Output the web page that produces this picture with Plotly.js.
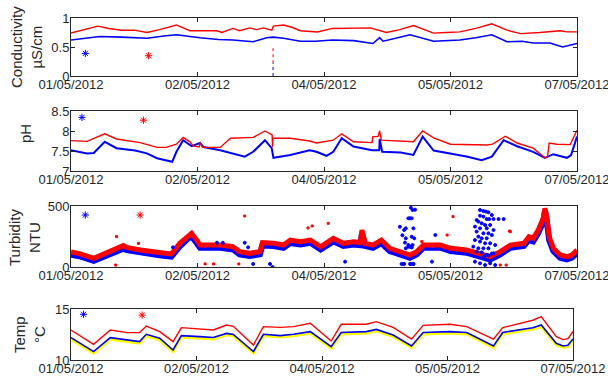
<!DOCTYPE html>
<html>
<head>
<meta charset="utf-8">
<script src="https://cdn.plot.ly/plotly-3.0.1.min.js"></script>
<style>html,body{margin:0;padding:0;background:#fff;}#chart{width:608px;height:378px;}</style>
</head>
<body>
<div id="chart"></div>
<script>
// ---- x axis (days since 01/05/2012 00:00) ----
const tickDays = [0, 1.5, 3, 4.5, 6];
const tickLabels = ["01/05/2012", "02/05/2012", "04/05/2012", "05/05/2012", "07/05/2012"];

// ---- Conductivity (µS/cm) ----
const condRedT = [0,0.15,0.32,0.45,0.6,0.75,0.9,1.05,1.25,1.41,1.55,1.73,1.79,1.92,2.0,2.12,2.2,2.28,2.38,2.4,2.52,2.62,2.72,2.92,3.1,3.3,3.55,3.74,3.9,4.06,4.3,4.45,4.61,4.8,4.99,5.17,5.33,5.56,5.8,5.88,6.0];
const condRed  = [0.74,0.8,0.86,0.82,0.79,0.79,0.75,0.8,0.88,0.78,0.78,0.78,0.75,0.82,0.78,0.83,0.8,0.83,0.79,0.86,0.88,0.84,0.78,0.76,0.82,0.83,0.83,0.75,0.8,0.87,0.74,0.75,0.76,0.82,0.9,0.79,0.73,0.75,0.78,0.76,0.76];
const condBlueT = [0,0.15,0.34,0.6,0.9,1.1,1.25,1.53,1.75,1.92,2.16,2.32,2.4,2.52,2.72,2.9,3.1,3.35,3.58,3.66,3.7,3.85,4.02,4.3,4.61,4.8,4.99,5.17,5.35,5.48,5.68,5.83,6.0];
const condBlue  = [0.62,0.65,0.68,0.67,0.65,0.69,0.71,0.66,0.63,0.62,0.59,0.66,0.67,0.65,0.6,0.6,0.62,0.61,0.56,0.66,0.6,0.65,0.71,0.6,0.62,0.66,0.71,0.59,0.6,0.57,0.57,0.5,0.56];
const condGlitchT = [2.396, 2.396];
const condGlitchRed = [0.22, 0.5];
const condGlitchBlue = [0.0, 0.22];
const condStarT = [0.17, 0.92];
const condStar  = [0.39, 0.35];

// ---- pH ----
const phRedT = [0,0.19,0.4,0.54,0.82,1.02,1.13,1.25,1.33,1.41,1.45,1.52,1.53,1.56,1.77,1.89,2.16,2.3,2.385,2.39,2.395,2.6,2.83,2.91,3.11,3.21,3.35,3.57,3.58,3.64,3.66,3.68,4.06,4.17,4.3,4.5,4.93,5.0,5.15,5.29,5.48,5.62,5.65,5.67,5.76,5.92,6.0];
const phRed  = [7.76,7.74,7.93,7.8,7.71,7.59,7.59,7.67,7.84,7.73,7.62,7.6,7.71,7.59,7.59,7.82,7.84,8.0,7.9,7.6,7.82,7.82,7.75,7.7,7.77,7.93,7.73,7.71,7.86,7.86,8.0,7.77,7.73,8.0,7.83,7.67,7.65,7.67,7.87,7.7,7.57,7.33,7.35,7.7,7.67,7.66,8.02];
const phBlueT = [0,0.19,0.27,0.4,0.54,0.76,0.9,1.02,1.2,1.25,1.33,1.43,1.53,1.57,1.77,1.92,2.06,2.16,2.3,2.38,2.4,2.6,2.83,2.91,3.03,3.11,3.21,3.35,3.57,3.655,3.66,3.69,3.91,4.06,4.17,4.3,4.5,4.69,4.87,4.99,5.13,5.29,5.48,5.62,5.72,5.88,5.93,6.0];
const phBlue  = [7.52,7.44,7.45,7.73,7.57,7.51,7.44,7.32,7.23,7.48,7.77,7.62,7.7,7.6,7.52,7.44,7.36,7.48,7.77,7.57,7.33,7.4,7.52,7.48,7.38,7.48,7.82,7.61,7.52,7.52,7.8,7.48,7.46,7.4,7.86,7.51,7.44,7.36,7.27,7.36,7.77,7.62,7.48,7.33,7.42,7.33,7.4,7.86];
const phStarT = [0.13, 0.86];
const phStar  = [8.34, 8.27];

// ---- Turbidity (NTU) ----
const turbT = [0,0.1,0.27,0.4,0.54,0.62,0.66,0.82,1.07,1.19,1.29,1.39,1.43,1.49,1.53,1.77,1.92,2.0,2.12,2.24,2.27,2.4,2.52,2.6,2.72,2.84,2.96,3.11,3.23,3.35,3.43,3.45,3.49,3.58,3.68,3.78,3.9,4.02,4.1,4.18,4.38,4.5,4.69,4.85,4.97,5.09,5.21,5.37,5.43,5.48,5.54,5.6,5.62,5.64,5.67,5.72,5.8,5.88,5.94,6.0];
const turbRed  = [123,110,71,110,153,175,160,139,117,107,194,262,276,221,180,180,166,126,112,126,200,194,180,221,207,221,166,235,194,207,200,303,194,180,221,153,126,98,126,180,180,153,139,112,85,126,180,194,248,235,303,399,481,413,248,153,98,85,98,139];
const turbBlue = [100,88,50,88,130,150,138,117,95,85,170,235,250,198,158,158,144,104,90,104,176,172,158,196,184,198,144,210,172,184,178,270,172,158,196,131,104,76,104,158,158,131,117,90,62,104,158,172,222,210,278,372,460,390,222,131,76,62,76,117];
const turbBlueOutT = [1.21,1.73,1.80,2.06,2.10,2.16,2.36,2.39,3.25,4.28,4.32,
  3.92,3.95,3.97,4.0,4.02,4.03,4.04,4.05,4.06,4.07,4.03,4.05,4.0,4.02,3.97,4.06,3.95,4.04,3.94,3.97,4.0,4.02,4.06,4.04,4.08,3.9,3.93,3.96,
  4.85,4.89,4.92,4.95,4.99,4.85,4.89,4.96,4.93,5.01,5.07,5.13,4.81,4.83,4.87,4.91,4.97,4.79,4.85,4.93,5.01,4.81,4.89,4.95,4.99,4.83,4.87,4.93,4.79,4.85,4.91,4.97,5.03,4.77,4.83,4.89,4.95,4.81,5.01,4.79,4.85,4.91,4.97,5.03,4.87,4.93,4.99,4.9,4.95];
const turbBlueOut = [161,199,199,199,161,25,25,0,44,44,262,
  25,303,235,399,399,486,248,467,317,235,25,180,166,25,153,25,25,160,25,317,180,166,25,399,470,330,260,200,
  467,459,454,448,426,421,413,393,393,393,393,393,385,372,358,344,344,331,317,317,303,290,276,276,262,249,235,235,221,208,194,194,180,167,153,153,153,126,112,44,30,16,30,16,120,100,110,90,95];
const turbRedOutT = [0.54,0.8,0.53,1.59,1.69,1.99,2.06,2.81,2.86,3.05,4.53,4.46,4.16,5.2,5.09,5.16,5.21];
const turbRedOut  = [249,194,16,25,25,25,418,320,336,358,413,262,208,295,16,16,290];
const turbStarT = [0.17, 0.82];
const turbStar  = [426, 426];

// ---- Temperature (°C) ----
const tempT = [0,0.27,0.47,0.67,0.82,0.9,1.06,1.22,1.32,1.54,1.7,1.86,1.94,2.18,2.3,2.5,2.66,2.86,3.11,3.23,3.53,3.65,3.85,4.07,4.21,4.53,4.73,5.05,5.16,5.52,5.62,5.8,5.88,5.94,6.0];
const tempRed    = [12.94,11.54,12.94,12.68,12.7,13.33,12.78,11.8,13.17,13.0,12.94,13.43,13.3,11.47,13.27,13.2,13.27,13.6,11.86,13.5,13.5,13.76,13.2,12.05,13.4,13.5,13.27,12.05,13.17,13.9,14.25,12.29,12.0,12.1,12.8];
const tempBlue   = [12.19,10.82,12.19,11.95,11.8,12.52,12.13,10.98,12.39,12.29,12.2,12.61,12.5,10.82,12.52,12.39,12.52,12.78,11.31,12.7,12.78,13.0,12.45,11.38,12.7,12.78,12.7,11.38,12.7,13.17,13.43,11.63,11.38,11.45,12.06];
const tempYellow = [12.07,10.7,12.06,11.82,11.68,12.4,12.0,10.86,12.26,12.16,12.08,12.49,12.38,10.7,12.4,12.27,12.4,12.66,11.19,12.58,12.66,12.88,12.33,11.26,12.58,12.66,12.58,11.26,12.58,13.05,13.31,11.51,11.26,11.33,11.94];
const tempStarT = [0.15, 0.85];
const tempStar  = [14.48, 14.4];

// ---- drawing ----
const RED = "#ff0000", BLUE = "#0000ff", YELLOW = "#ffff00";
const W = 608, H = 378;
const FONT = "Liberation Sans, Arial, Helvetica, sans-serif";
const TXT = "#262626";

function line(x, y, color, width, ax, extra) {
  return Object.assign({type: "scatter", mode: "lines", x: x, y: y,
    line: {color: color, width: width}, xaxis: "x" + ax, yaxis: "y" + ax,
    hoverinfo: "skip", showlegend: false}, extra || {});
}
function pts(x, y, color, symbol, size, ax) {
  return {type: "scatter", mode: "markers", x: x, y: y, xaxis: "x" + ax, yaxis: "y" + ax,
    marker: {color: color, symbol: symbol, size: size, line: {color: color, width: 1}},
    hoverinfo: "skip", showlegend: false};
}
function stars(x, y, ax) {
  return [pts([x[0]], [y[0]], BLUE, "asterisk-open", 6, ax),
          pts([x[1]], [y[1]], RED, "asterisk-open", 6, ax)];
}

const traces = [
  line(condBlueT, condBlue, BLUE, 1.6, ""),
  line(condRedT, condRed, RED, 1.4, ""),
  line(condGlitchT, condGlitchRed, RED, 1, "", {line: {color: RED, width: 1, dash: "dot"}}),
  line(condGlitchT, condGlitchBlue, BLUE, 1, "", {line: {color: BLUE, width: 1, dash: "dot"}}),
  ...stars(condStarT, condStar, ""),

  line(phBlueT, phBlue, BLUE, 2, "2"),
  line(phRedT, phRed, RED, 1.4, "2"),
  ...stars(phStarT, phStar, "2"),

  line(turbT, turbBlue, BLUE, 6, "3"),
  line(turbT, turbRed, RED, 5, "3"),
  pts(turbBlueOutT, turbBlueOut, BLUE, "circle", 3, "3"),
  pts(turbRedOutT, turbRedOut, RED, "square", 2, "3"),
  ...stars(turbStarT, turbStar, "3"),

  line(tempT, tempYellow, YELLOW, 3.5, "4"),
  line(tempT, tempBlue, BLUE, 1.6, "4"),
  line(tempT, tempRed, RED, 1.4, "4"),
  ...stars(tempStarT, tempStar, "4")
];

function xax(x0, x1, anchor) {
  return {domain: [x0 / W, x1 / W], range: [0, 6], anchor: anchor,
    tickvals: tickDays, ticktext: tickLabels, ticks: "inside", ticklen: 4, tickcolor: TXT,
    showline: true, linecolor: TXT, linewidth: 1, mirror: "ticks",
    showgrid: false, zeroline: false, fixedrange: true,
    ticklabeloverflow: "allow", ticklabelstandoff: -4,
    tickfont: {family: FONT, size: 13, color: TXT}};
}
function yax(top, bottom, range, tv, anchor) {
  return {domain: [1 - bottom / H, 1 - top / H], range: range, anchor: anchor,
    tickvals: tv, ticks: "inside", ticklen: 4, tickcolor: TXT,
    showline: true, linecolor: TXT, linewidth: 1, mirror: "ticks",
    showgrid: false, zeroline: false, fixedrange: true,
    ticklabelstandoff: -2,
    tickfont: {family: FONT, size: 13, color: TXT}};
}
function ytitle(text, px, py) {
  return {text: text, x: px / W, y: 1 - py / H, xref: "paper", yref: "paper",
    xanchor: "center", yanchor: "middle", textangle: -90, showarrow: false,
    font: {family: FONT, size: 15, color: TXT}};
}

const layout = {
  width: W, height: H, margin: {l: 0, r: 0, t: 0, b: 0},
  paper_bgcolor: "#ffffff", plot_bgcolor: "#ffffff", showlegend: false,
  xaxis:  xax(71, 577, "y"),
  yaxis:  yax(18, 76, [0, 1], [0, 0.5, 1], "x"),
  xaxis2: xax(71, 577, "y2"),
  yaxis2: yax(111, 171, [7, 8.5], [7, 7.5, 8, 8.5], "x2"),
  xaxis3: xax(71, 577, "y3"),
  yaxis3: yax(206, 267, [0, 500], [0, 500], "x3"),
  xaxis4: xax(71, 573, "y4"),
  yaxis4: yax(309, 360, [10, 15], [10, 15], "x4"),
  annotations: [
    ytitle("Conductivity<br>µS/cm", 27, 47),
    ytitle("pH", 26, 134),
    ytitle("Turbidity<br>NTU", 24, 238),
    ytitle("Temp<br>°C", 29, 335)
  ]
};

Plotly.newPlot("chart", traces, layout, {staticPlot: true, displayModeBar: false});
</script>
</body>
</html>
